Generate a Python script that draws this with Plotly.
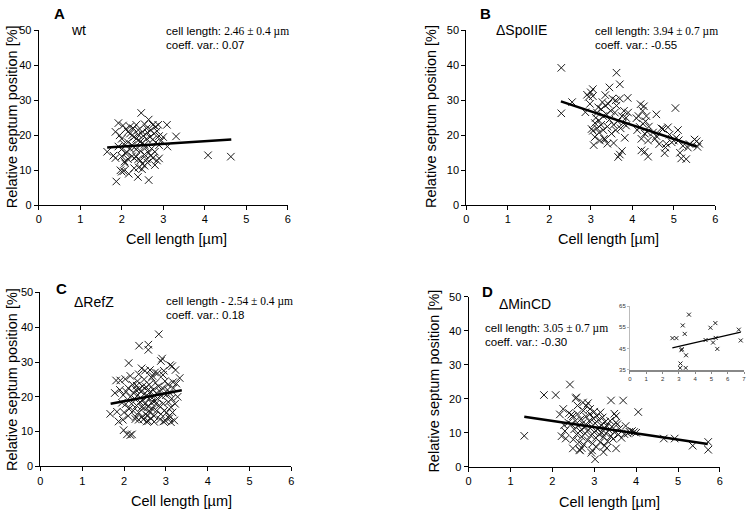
import plotly.graph_objects as go

W, H = 752, 517

# ---------------- data ----------------
A_x = [1.65,1.80,1.85,1.87,1.85,1.92,1.95,1.97,2.00,2.03,2.05,2.00,2.05,1.92,2.00,2.07,2.08,2.10,2.12,2.10,2.15,2.17,2.15,2.20,2.20,2.25,2.25,2.25,2.30,2.30,2.30,2.30,2.35,2.35,2.35,2.39,2.40,2.40,2.40,2.41,2.45,2.45,2.47,2.49,2.50,2.50,2.50,2.55,2.55,2.55,2.55,2.60,2.60,2.60,2.62,2.62,2.65,2.65,2.65,2.68,2.70,2.70,2.75,2.75,2.75,2.78,2.80,2.82,2.82,2.85,2.85,2.90,2.90,2.90,2.95,3.00,3.09,3.10,3.31,4.08,4.63,2.20,2.35,2.45,2.40,2.58,2.72,2.80,2.15,2.00,2.88,2.52,2.28]
A_y = [15.3,14.2,13.5,6.8,21.0,23.5,20.0,10.0,9.6,22.8,9.8,19.0,17.5,16.8,16.0,12.5,12.0,14.8,15.2,21.8,21.0,9.0,18.0,20.5,22.5,20.0,17.2,14.0,19.6,16.5,13.5,10.6,19.0,23.0,13.9,8.1,18.6,21.5,13.2,10.8,18.2,12.8,26.4,10.3,17.8,21.0,11.8,17.3,23.2,14.5,11.3,22.0,19.0,13.2,20.8,12.2,24.5,15.0,7.2,19.5,21.5,14.2,23.0,18.8,13.5,20.5,11.5,22.5,18.0,21.2,12.8,19.8,17.2,13.4,18.5,19.5,23.0,16.8,19.7,14.3,13.9,16.2,16.0,15.5,20.2,16.5,16.2,15.3,13.2,14.0,23.0,19.8,22.0]
A_fit_x = [1.65, 4.64]
A_fit_y = [16.5, 18.8]

B_x = [2.29,2.55,2.29,2.87,2.91,3.00,3.05,3.05,2.95,3.05,3.07,3.02,3.10,3.10,3.12,3.15,3.15,3.18,3.20,3.20,3.22,3.25,3.25,3.28,3.30,3.30,3.32,3.35,3.35,3.38,3.40,3.40,3.42,3.45,3.45,3.48,3.50,3.52,3.55,3.58,3.60,3.62,3.62,3.65,3.66,3.70,3.70,3.70,3.72,3.75,3.75,3.78,3.80,3.82,3.85,3.85,3.89,3.90,4.10,4.12,4.15,4.18,4.20,4.22,4.22,4.25,4.26,4.28,4.30,4.30,4.32,4.34,4.36,4.38,4.38,4.40,4.50,4.55,4.58,4.58,4.65,4.70,4.74,4.78,4.80,4.82,4.86,4.90,4.95,5.00,5.04,5.06,5.10,5.12,5.15,5.18,5.22,5.30,5.34,5.38,5.50,5.55,5.57,5.61,3.55,3.35,3.60,2.98]
B_y = [39.3,29.5,26.3,26.6,31.6,32.3,31.2,33.2,31.0,21.3,17.2,21.8,23.5,19.5,25.0,26.5,22.0,28.0,24.2,20.8,18.5,27.5,23.0,29.5,25.5,21.5,19.0,28.5,18.8,26.0,17.6,22.5,29.0,33.7,24.5,27.0,20.5,30.5,23.0,26.5,21.5,37.9,28.5,24.0,13.8,14.5,34.6,30.5,22.0,25.5,15.5,23.5,27.0,19.3,25.0,22.8,30.7,26.5,24.9,21.5,25.5,22.4,28.9,15.7,19.0,27.0,23.3,28.3,15.3,20.5,24.0,25.5,21.0,13.9,18.5,22.5,20.8,19.0,26.0,19.8,17.5,22.0,21.8,14.9,16.5,17.6,22.3,20.2,18.0,18.5,27.8,19.3,21.5,18.6,15.0,13.4,17.0,13.2,16.5,17.5,18.8,18.3,16.7,17.6,17.8,31.5,30.0,29.0]
B_fit_x = [2.28, 5.55]
B_fit_y = [29.7, 16.8]

C_x = [2.83,2.36,2.58,2.58,2.91,2.88,2.11,2.42,2.62,3.10,3.15,3.23,3.33,3.17,3.25,1.81,1.91,2.03,2.93,2.74,2.80,1.78,2.23,1.95,2.04,1.67,1.83,1.87,1.97,1.99,2.07,2.15,2.19,2.27,2.35,2.54,2.58,2.94,2.99,3.12,3.20,2.10,2.15,2.18,2.20,2.22,2.25,2.28,2.30,2.32,2.33,2.35,2.36,2.38,2.40,2.42,2.44,2.45,2.47,2.48,2.50,2.50,2.52,2.53,2.55,2.56,2.58,2.60,2.60,2.62,2.63,2.65,2.66,2.68,2.70,2.70,2.72,2.74,2.75,2.77,2.78,2.80,2.82,2.84,2.86,2.88,2.90,2.92,2.94,2.96,2.98,3.00,3.02,3.04,3.06,3.08,3.10,3.12,3.14,3.16,3.18,3.22,3.28,3.05,2.35,2.50,2.68,2.95,2.15,2.05,1.98,1.90,2.00,2.10,2.12,2.28,2.46,2.64,2.86,3.08,2.72,2.30,2.56,2.76,2.42,2.60]
C_y = [38.0,34.7,35.0,33.5,31.0,30.3,29.7,28.2,27.7,29.1,28.8,27.7,25.4,24.2,23.8,24.7,24.7,25.1,26.3,27.0,26.8,21.1,21.1,18.3,17.9,15.1,15.7,12.9,13.4,10.4,9.2,9.0,9.2,13.6,13.4,12.9,13.0,12.9,13.1,12.7,13.2,22.5,20.0,18.0,23.5,16.0,19.5,22.0,17.5,24.5,20.5,15.5,22.3,18.5,21.5,14.2,23.0,19.0,16.8,25.0,21.0,18.0,15.0,22.8,20.0,14.5,17.2,23.5,19.5,15.5,21.5,18.3,25.5,16.5,22.0,20.0,14.5,18.8,24.0,21.0,16.0,19.5,23.0,17.5,21.5,15.0,20.2,22.5,18.0,16.0,24.5,20.5,15.5,22.0,18.5,14.5,21.0,17.0,19.5,15.5,22.5,18.0,20.0,23.5,26.5,27.5,26.0,27.5,26.0,21.5,20.5,22.0,15.5,14.5,16.5,14.2,13.5,13.8,13.5,13.8,12.8,23.2,21.8,18.0,17.0,16.0]
C_fit_x = [1.68, 3.38]
C_fit_y = [18.0, 21.9]

D_x = [1.33,1.80,2.08,2.42,2.56,2.57,3.40,3.69,4.05,2.26,2.18,2.45,2.49,2.73,2.81,2.85,2.22,2.32,2.49,2.65,2.66,2.93,3.02,3.22,3.52,3.25,4.66,4.92,5.35,5.72,5.72,3.84,3.90,3.72,3.48,3.52,3.52,2.45,2.50,2.52,2.55,2.58,2.60,2.62,2.64,2.66,2.68,2.70,2.72,2.74,2.75,2.76,2.78,2.80,2.82,2.84,2.86,2.88,2.90,2.92,2.94,2.96,2.98,3.00,3.02,3.04,3.06,3.08,3.10,3.12,3.14,3.16,3.18,3.20,3.22,3.24,3.26,3.28,3.30,3.32,3.35,3.38,3.40,3.42,3.45,3.48,3.55,3.58,3.60,3.65,2.90,3.00,3.15,2.38,2.30,2.28,2.95,3.30,3.05,2.70,2.60,2.40,3.75,3.80,4.00,3.95]
D_y = [9.1,21.1,21.1,24.2,20.1,20.4,19.5,19.5,16.1,17.0,15.4,15.3,14.9,18.9,17.9,18.7,9.0,8.3,5.4,5.0,4.8,4.1,2.2,4.3,5.4,6.2,8.3,8.3,6.2,7.3,5.0,10.3,10.5,9.6,15.6,14.9,13.0,12.5,8.0,11.0,13.5,9.5,15.5,12.0,7.2,10.5,14.0,8.8,12.8,16.5,6.5,11.5,9.8,14.8,12.2,7.8,10.8,13.5,15.5,9.2,11.8,6.8,14.2,10.2,12.8,8.5,15.0,11.0,13.8,9.5,7.2,12.2,10.0,14.5,8.8,11.5,13.2,9.8,12.0,7.5,10.8,13.5,9.0,11.8,8.2,10.2,12.5,9.5,11.2,8.5,17.0,16.2,16.0,13.0,10.5,12.2,4.8,5.5,5.8,5.5,18.0,15.8,12.0,9.8,10.0,10.2]
D_fit_x = [1.33, 5.71]
D_fit_y = [14.7, 6.7]

IN_x = [2.61,2.85,3.08,3.10,3.16,3.18,3.24,3.36,3.42,3.44,3.62,4.64,4.94,5.10,5.24,5.26,5.36,6.68,6.80]
IN_y = [49.9,49.9,35.8,37.9,44.2,44.7,55.9,51.9,35.8,41.8,61.0,49.0,54.8,47.8,57.0,50.0,44.8,53.9,48.8]
IN_fit_x = [2.6, 6.8]
IN_fit_y = [45.3, 52.7]

x_ticks = [0, 1, 2, 3, 4, 5, 6]
y_ticks = [0, 10, 20, 30, 40, 50]
in_x_ticks = [0, 1, 2, 3, 4, 5, 6, 7]
in_y_ticks = [35, 45, 55, 65]

# ---------------- layout helpers ----------------
def px_x(p):
    return p / W

def px_y(p):
    return 1 - p / H

FONT = "Liberation Sans, Arial, sans-serif"

panels = [
    ("", A_x, A_y, A_fit_x, A_fit_y, (36, 287), (25, 204)),
    ("2", B_x, B_y, B_fit_x, B_fit_y, (467, 718), (25, 204)),
    ("3", C_x, C_y, C_fit_x, C_fit_y, (37.7, 290.7), (293.3, 471.3)),
    ("4", D_x, D_y, D_fit_x, D_fit_y, (469.3, 722.7), (297.7, 471.7)),
]

fig = go.Figure()
layout = {}
for suf, xs, ys, fx, fy, (x0, x1), (y0, y1) in panels:
    xa = "x" + suf
    ya = "y" + suf
    fig.add_trace(go.Scatter(
        x=xs, y=ys, mode="markers", xaxis=xa, yaxis=ya,
        marker=dict(symbol="x-thin", size=7.5, line=dict(width=1, color="#1a1a1a"), color="#1a1a1a"),
        hoverinfo="skip"))
    fig.add_trace(go.Scatter(
        x=fx, y=fy, mode="lines", xaxis=xa, yaxis=ya,
        line=dict(color="black", width=2.5), hoverinfo="skip"))
    common = dict(showline=True, linecolor="black", linewidth=1, ticks="outside",
                  ticklen=4, tickcolor="black", showgrid=False, zeroline=False,
                  tickfont=dict(family=FONT, size=11, color="black"), fixedrange=True)
    layout["xaxis" + suf] = dict(common, domain=[px_x(x0), px_x(x1)], range=[0, 6],
                                 tickvals=x_ticks, anchor=ya)
    layout["yaxis" + suf] = dict(common, domain=[px_y(y1), px_y(y0)], range=[0, 50],
                                 tickvals=y_ticks, anchor=xa)

# inset
fig.add_trace(go.Scatter(
    x=IN_x, y=IN_y, mode="markers", xaxis="x5", yaxis="y5",
    marker=dict(symbol="x-thin", size=4, line=dict(width=1, color="#222"), color="#222"),
    hoverinfo="skip"))
fig.add_trace(go.Scatter(
    x=IN_fit_x, y=IN_fit_y, mode="lines", xaxis="x5", yaxis="y5",
    line=dict(color="black", width=1.2), hoverinfo="skip"))
in_common = dict(showgrid=False, zeroline=False, ticks="outside", ticklen=2,
                 tickfont=dict(family=FONT, size=6, color="#333"), fixedrange=True)
layout["xaxis5"] = dict(in_common, domain=[px_x(632), px_x(747)], range=[0, 7],
                        tickvals=in_x_ticks, anchor="y5", showline=True,
                        linecolor="#888", linewidth=2, tickcolor="#888")
layout["yaxis5"] = dict(in_common, domain=[px_y(372.3), px_y(307.3)], range=[35, 65],
                        tickvals=in_y_ticks, anchor="x5", showline=True,
                        linecolor="#bbb", linewidth=1, tickcolor="#bbb")

ann = []

def text(x, y, s, size, xanchor="left", bold=False, angle=0):
    if bold:
        s = "<b>" + s + "</b>"
    ann.append(dict(x=px_x(x), y=px_y(y), xref="paper", yref="paper", text=s,
                    showarrow=False, xanchor=xanchor, yanchor="middle", textangle=angle,
                    borderpad=0,
                    font=dict(family=FONT, size=size, color="black")))

def stats(x, y, sep, val, cv):
    text(x, y, "cell length" + sep + " <span style=\"font-family:'Liberation Serif'\">" + val + "</span>", 11.5)
    text(x, y + 13.5, "coeff. var.: " + cv, 11.5)

text(50, 8, "A", 15, bold=True)
text(480, 8, "B", 15, bold=True)
text(52, 289, "C", 15, bold=True)
text(482, 292, "D", 15, bold=True)

text(68, 25, "wt", 14)
text(496, 25, "ΔSpoIIE", 14)
text(71, 303, "ΔRefZ", 14)
text(499, 305, "ΔMinCD", 14)

stats(163, 26, ":", "2.46 ± 0.4 µm", "0.07")
stats(596, 26, ":", "3.94 ± 0.7 µm", "-0.55")
stats(163, 303, " -", "2.54 ± 0.4 µm", "0.18")
stats(485, 330, ":", "3.05 ± 0.7 µm", "-0.30")

ytitle = "Relative septum position [%]"
xtitle = "Cell length [µm]"
text(9, 113, ytitle, 14.5, xanchor="center", angle=-90)
text(432, 113, ytitle, 14.5, xanchor="center", angle=-90)
text(9, 382, ytitle, 14.5, xanchor="center", angle=-90)
text(435, 384, ytitle, 14.5, xanchor="center", angle=-90)
text(175, 239, xtitle, 14.5, xanchor="center")
text(610, 239, xtitle, 14.5, xanchor="center")
text(180, 507, xtitle, 14.5, xanchor="center")
text(611, 508, xtitle, 14.5, xanchor="center")

fig.update_layout(width=W, height=H, margin=dict(l=0, r=0, t=0, b=0),
                  paper_bgcolor="white", plot_bgcolor="white", showlegend=False,
                  annotations=ann, **layout)

fig.write_html("out.html", config={"displayModeBar": False},
               post_script="document.body.style.margin='0px';")
